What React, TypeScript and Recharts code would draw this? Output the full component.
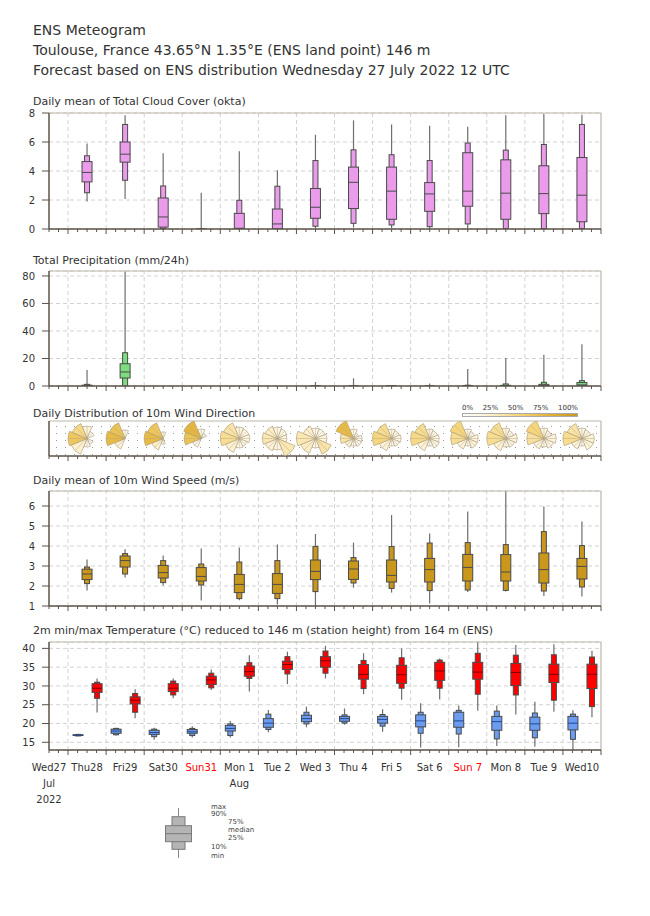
import React from 'react';
import { ComposedChart, Bar, Scatter, XAxis, YAxis, CartesianGrid, ReferenceLine } from 'recharts';

const FONT = '"DejaVu Sans", Verdana, sans-serif';
const INK = '#333333';
const AXIS = '#5b534a';
const FRAME = '#bdb5aa';
const GRID = '#d2d2d2';
const OUTLINE = '#4a4a4a';

// one label per calendar day, the plot starts Wed27 12 UTC
const dayLabels = ['Wed27', 'Thu28', 'Fri29', 'Sat30', 'Sun31', 'Mon 1', 'Tue 2', 'Wed 3', 'Thu 4', 'Fri 5', 'Sat 6', 'Sun 7', 'Mon 8', 'Tue 9', 'Wed10'];
const redDays = ['Sun31', 'Sun 7'];
const monthLabels: Record<number, string> = { 0: 'Jul', 5: 'Aug' };
const yearLabel = '2022';

// each box: min, 10%, 25%, median, 75%, 90%, max  (Thu28 ... Wed10)
const cloudCover = [
  [1.9, 2.5, 3.25, 3.9, 4.65, 5.05, 5.9],
  [2.07, 3.36, 4.61, 5.16, 6.0, 7.21, 7.84],
  [0, 0.03, 0.13, 0.83, 2.14, 2.97, 5.23],
  [0, 0, 0, 0, 0, 0.01, 2.5],
  [0, 0, 0.02, 0.05, 1.08, 1.98, 5.37],
  [0, 0, 0.02, 0.35, 1.38, 2.95, 4.06],
  [0.05, 0.19, 0.74, 1.5, 2.79, 4.72, 6.5],
  [0.1, 0.39, 1.41, 3.22, 4.27, 5.46, 7.49],
  [0.05, 0.28, 0.67, 2.61, 4.27, 5.12, 7.21],
  [0, 0.16, 1.22, 2.42, 3.2, 4.72, 7.12],
  [0.02, 0.35, 1.57, 2.61, 5.26, 5.93, 7.05],
  [0, 0.02, 0.67, 2.47, 4.77, 5.44, 7.84],
  [0, 0.02, 1.06, 2.44, 4.36, 5.83, 7.95],
  [0, 0.02, 0.5, 2.33, 4.93, 7.21, 7.88],
];

const precipitation = [
  [0, 0, 0.1, 0.3, 0.6, 1.2, 11.6],
  [0, 0, 5.8, 10.2, 16.2, 24.2, 83.5],
  [0, 0, 0, 0, 0, 0, 0],
  [0, 0, 0, 0, 0, 0, 0],
  [0, 0, 0, 0, 0, 0, 0],
  [0, 0, 0, 0, 0, 0, 0],
  [0, 0, 0, 0, 0, 0.2, 2.9],
  [0, 0, 0, 0, 0, 0, 5.6],
  [0, 0, 0, 0, 0, 0.1, 0.7],
  [0, 0, 0, 0, 0, 0, 1.9],
  [0, 0, 0, 0, 0.2, 0.6, 12.4],
  [0, 0, 0, 0.1, 0.5, 1.5, 20.4],
  [0, 0, 0, 0.3, 1.2, 2.7, 22.8],
  [0, 0, 0.2, 0.8, 2.5, 3.9, 30.3],
];

const windSpeed = [
  [1.78, 2.12, 2.32, 2.6, 2.84, 2.95, 3.33],
  [2.42, 2.6, 2.95, 3.27, 3.5, 3.62, 3.84],
  [2.03, 2.17, 2.4, 2.67, 3.03, 3.27, 3.52],
  [1.28, 2.05, 2.25, 2.48, 2.92, 3.1, 3.88],
  [1.29, 1.37, 1.67, 2.08, 2.58, 3.2, 3.93],
  [1.07, 1.37, 1.63, 2.08, 2.62, 3.27, 4.08],
  [1.0, 1.72, 2.32, 2.73, 3.3, 3.98, 4.6],
  [1.92, 2.15, 2.33, 2.85, 3.25, 3.42, 4.17],
  [1.67, 1.88, 2.2, 2.53, 3.3, 3.97, 5.55],
  [1.12, 1.77, 2.2, 2.82, 3.38, 4.15, 4.62],
  [1.7, 1.8, 2.25, 2.93, 3.58, 4.17, 5.73],
  [1.73, 1.78, 2.25, 2.7, 3.57, 4.07, 6.74],
  [1.5, 1.75, 2.15, 2.82, 3.65, 4.72, 5.98],
  [1.48, 1.95, 2.35, 2.98, 3.38, 4.02, 5.22],
];

// minimum temperature boxes (06 UTC) and maximum (18 UTC)
const tempMin = [
  [16.6, 16.7, 16.8, 16.9, 17.0, 17.1, 17.3],
  [16.8, 17.0, 17.4, 18.0, 18.5, 18.7, 18.9],
  [15.7, 16.5, 17.1, 17.6, 18.2, 18.5, 18.9],
  [16.3, 16.8, 17.4, 17.8, 18.4, 18.7, 19.3],
  [16.3, 16.8, 18.0, 18.7, 19.5, 19.9, 20.7],
  [17.7, 18.4, 19.0, 20.1, 21.3, 22.5, 23.6],
  [19.0, 19.9, 20.5, 21.3, 22.2, 23.0, 24.5],
  [19.7, 20.1, 20.6, 21.3, 21.9, 22.3, 24.0],
  [17.8, 19.3, 20.1, 21.1, 21.9, 22.4, 23.8],
  [13.6, 17.4, 19.1, 20.7, 22.3, 23.0, 25.4],
  [13.7, 17.2, 19.0, 20.7, 23.0, 23.5, 24.8],
  [14.0, 15.9, 18.2, 20.5, 21.9, 23.3, 24.8],
  [13.8, 16.2, 18.2, 19.9, 21.7, 22.8, 25.8],
  [12.95, 15.8, 18.3, 20.1, 21.9, 22.5, 23.5],
];

const tempMax = [
  [22.9, 26.7, 28.3, 29.4, 30.6, 31.0, 32.0],
  [21.4, 23.0, 25.2, 26.2, 27.1, 28.0, 29.1],
  [26.7, 27.6, 28.5, 29.4, 30.6, 31.3, 32.0],
  [28.9, 29.5, 30.4, 31.6, 32.6, 33.4, 34.4],
  [28.5, 32.0, 32.6, 33.8, 35.3, 36.2, 38.2],
  [30.5, 33.2, 34.4, 35.7, 36.6, 37.8, 39.1],
  [32.0, 33.4, 35.0, 36.7, 37.8, 39.3, 40.7],
  [27.8, 29.3, 31.8, 33.1, 35.7, 36.8, 38.7],
  [26.3, 29.4, 30.7, 33.0, 35.5, 37.5, 40.0],
  [26.4, 29.4, 31.5, 34.0, 36.3, 36.9, 37.3],
  [23.4, 27.8, 31.8, 33.7, 36.3, 38.7, 41.7],
  [22.4, 27.6, 30.1, 33.6, 36.0, 38.2, 40.9],
  [23.1, 26.2, 30.9, 33.1, 35.8, 38.3, 41.1],
  [21.7, 24.5, 29.3, 33.1, 35.8, 37.7, 39.4],
];

// wind direction sectors: N, NE, E, SE, S, SW, W, NW
const windDirFreq = [
  [10, 4, 0, 2, 4, 14, 38, 28],
  [4, 0, 0, 0, 0, 12, 44, 40],
  [2, 0, 0, 0, 2, 14, 44, 38],
  [6, 2, 0, 0, 0, 6, 40, 46],
  [10, 8, 8, 6, 6, 14, 26, 22],
  [8, 8, 8, 20, 8, 12, 20, 16],
  [6, 6, 10, 22, 6, 16, 20, 14],
  [6, 2, 6, 6, 4, 10, 22, 44],
  [8, 6, 8, 6, 4, 12, 30, 26],
  [8, 6, 8, 8, 4, 12, 28, 26],
  [6, 4, 10, 10, 4, 10, 26, 30],
  [8, 6, 10, 8, 4, 12, 26, 26],
  [8, 6, 10, 8, 4, 10, 24, 30],
  [8, 8, 12, 10, 4, 10, 26, 22],
];
const windDirLen = [
  [0.65, 0.4, 0, 0.35, 0.45, 0.9, 1.0, 0.85],
  [0.45, 0, 0, 0, 0, 0.6, 1.0, 0.9],
  [0.35, 0, 0, 0, 0.3, 0.65, 1.0, 0.9],
  [0.5, 0.3, 0, 0, 0, 0.5, 0.9, 1.0],
  [0.6, 0.55, 0.55, 0.45, 0.5, 0.8, 1.0, 0.9],
  [0.6, 0.55, 0.5, 1.0, 0.6, 0.7, 0.8, 0.7],
  [0.55, 0.55, 0.6, 0.9, 0.5, 0.85, 1.0, 0.7],
  [0.5, 0.3, 0.45, 0.45, 0.4, 0.5, 0.7, 1.0],
  [0.5, 0.45, 0.5, 0.45, 0.4, 0.7, 1.0, 0.85],
  [0.5, 0.45, 0.5, 0.55, 0.4, 0.7, 1.0, 0.85],
  [0.5, 0.4, 0.55, 0.55, 0.4, 0.6, 0.9, 1.0],
  [0.55, 0.45, 0.6, 0.5, 0.45, 0.7, 1.0, 0.9],
  [0.55, 0.45, 0.65, 0.55, 0.45, 0.6, 0.9, 1.0],
  [0.55, 0.5, 0.65, 0.65, 0.4, 0.6, 1.0, 0.85],
];

const cloudTicks = [0, 2, 4, 6, 8];
const precipTicks = [0, 20, 40, 60, 80];
const windTicks = [1, 2, 3, 4, 5, 6];
const tempTicks = [15, 20, 25, 30, 35, 40];
const legendPercents = ['0%', '25%', '50%', '75%', '100%'];

// 6-hourly ticks across the whole period
const xTicks: number[] = [];
for (let t = 0.5; t <= dayLabels.length + 0.001; t += 0.25) xTicks.push(t);
const dayLines = dayLabels.slice(1).map((_, i) => i + 1);

const toRows = (boxes: number[][], offset: number, fill: string, median = OUTLINE) =>
  boxes.map((q, i) => ({ x: i + 1 + offset, range: [q[0], q[6]], q, fill, median }));

const cloudRows = toRows(cloudCover, 0.5, '#ea9cea');
const precipRows = toRows(precipitation, 0.5, '#7ddc7d');
const windRows = toRows(windSpeed, 0.5, '#c8971c');
const tempRows = [
  ...toRows(tempMin, 0.25, '#6a9cf2', '#23468f'),
  ...toRows(tempMax, 0.75, '#ff0000', '#7a0000'),
].sort((a, b) => a.x - b.x);
const roseRows = windDirFreq.map((freq, i) => ({ x: i + 1.5, y: 0.5, freq, len: windDirLen[i] }));

const BoxShape = (props: any) => {
  const { x, y, width, height, payload } = props;
  const [min, p10, p25, med, p75, p90, max] = payload.q;
  if (!(max > min)) return <g />;
  const top = Math.min(y, y + height);
  const bot = Math.max(y, y + height);
  const py = (v: number) => bot - ((bot - top) * (v - min)) / (max - min);
  const cx = x + width / 2;
  return (
    <g>
      <line x1={cx} x2={cx} y1={py(max)} y2={py(min)} stroke="#6e6e6e" strokeWidth={1.2} />
      <rect x={cx - 2.5} y={py(p90)} width={5} height={Math.max(0.5, py(p10) - py(p90))} fill={payload.fill} stroke={OUTLINE} strokeWidth={1} />
      <rect x={cx - 5} y={py(p75)} width={10} height={Math.max(0.5, py(p25) - py(p75))} fill={payload.fill} stroke={OUTLINE} strokeWidth={1} />
      <line x1={cx - 5} x2={cx + 5} y1={py(med)} y2={py(med)} stroke={payload.median} strokeWidth={1} />
    </g>
  );
};

const colorStops = [
  [0, [255, 255, 255]],
  [0.25, [252, 238, 200]],
  [0.5, [245, 212, 118]],
  [0.75, [228, 180, 58]],
  [1, [200, 150, 30]],
] as [number, number[]][];

const sectorColor = (pct: number) => {
  const f = Math.min(1, Math.max(0, pct / 100));
  for (let i = 1; i < colorStops.length; i++) {
    const [f1, c1] = colorStops[i];
    const [f0, c0] = colorStops[i - 1];
    if (f <= f1) {
      const t = (f - f0) / (f1 - f0);
      const c = c0.map((v, k) => Math.round(v + (c1[k] - v) * t));
      return `rgb(${c[0]},${c[1]},${c[2]})`;
    }
  }
  return 'rgb(200,150,30)';
};

const WindRose = (props: any) => {
  const { cx, cy, payload } = props;
  const R = 19;
  return (
    <g>
      {payload.freq.map((f: number, i: number) => {
        if (f <= 0 || payload.len[i] <= 0) return null;
        const r = R * payload.len[i];
        const a0 = ((i * 45 - 22.5) * Math.PI) / 180;
        const a1 = ((i * 45 + 22.5) * Math.PI) / 180;
        const mid = (i * 45 * Math.PI) / 180;
        const x0 = cx + r * Math.sin(a0);
        const y0 = cy - r * Math.cos(a0);
        const x1 = cx + r * Math.sin(a1);
        const y1 = cy - r * Math.cos(a1);
        return (
          <g key={i}>
            <path d={`M${cx},${cy} L${x0},${y0} A${r},${r} 0 0 1 ${x1},${y1} Z`} fill={sectorColor(f * 1.6)} stroke="#a89878" strokeWidth={0.6} />
            <line x1={cx} y1={cy} x2={cx + r * Math.sin(mid)} y2={cy - r * Math.cos(mid)} stroke="#b8a888" strokeWidth={0.5} />
          </g>
        );
      })}
    </g>
  );
};

const DayTick = (props: any) => {
  const { x, y, payload, labels } = props;
  const v = payload.value;
  const day = Math.floor(v + 1e-6);
  const hour = Math.round((v - day) * 24);
  const len = hour === 0 ? 5 : 3;
  const label = dayLabels[day];
  return (
    <g>
      <line x1={x} x2={x} y1={y} y2={y + len} stroke={AXIS} strokeWidth={1} />
      {labels && hour === 12 && label && (
        <text x={x} y={y + 21} textAnchor="middle" fontSize={10} fontFamily={FONT} fill={redDays.includes(label) ? '#ff0000' : INK}>
          {label}
        </text>
      )}
      {labels && hour === 12 && monthLabels[day] && (
        <text x={x} y={y + 37} textAnchor="middle" fontSize={10} fontFamily={FONT} fill={INK}>
          {monthLabels[day]}
        </text>
      )}
      {labels && hour === 12 && day === 0 && (
        <text x={x} y={y + 53} textAnchor="middle" fontSize={10} fontFamily={FONT} fill={INK}>
          {yearLabel}
        </text>
      )}
    </g>
  );
};

const Panel = ({ top, plotHeight, domain, yTicks, data, labels = false, axisHeight = 10, children }: any) => (
  <div style={{ position: 'absolute', left: 0, top: top - 10 }}>
    <ComposedChart width={650} height={10 + plotHeight + axisHeight} data={data} margin={{ top: 10, right: 49, bottom: 0, left: 19 }}>
      {yTicks && <CartesianGrid vertical={false} stroke={GRID} strokeDasharray="4 3" />}
      {yTicks && dayLines.map((d) => <ReferenceLine key={d} x={d} stroke={GRID} strokeDasharray="4 3" />)}
      <ReferenceLine y={domain[1]} stroke={FRAME} strokeWidth={1.2} />
      <ReferenceLine x={dayLabels.length} stroke={FRAME} strokeWidth={1.2} />
      <XAxis
        type="number"
        dataKey="x"
        domain={[0.5, dayLabels.length]}
        ticks={xTicks}
        interval={0}
        allowDataOverflow
        tickLine={false}
        tickSize={0}
        tickMargin={0}
        height={axisHeight}
        axisLine={{ stroke: AXIS, strokeWidth: 1.5 }}
        tick={(p: any) => <DayTick {...p} labels={labels} />}
      />
      <YAxis
        type="number"
        domain={domain}
        ticks={yTicks}
        interval={0}
        allowDataOverflow
        width={30}
        tick={yTicks ? { fontSize: 10, fill: INK, fontFamily: FONT } : false}
        tickLine={yTicks ? { stroke: AXIS } : false}
        tickSize={7}
        tickMargin={7}
        axisLine={{ stroke: AXIS, strokeWidth: 1.5 }}
      />
      {children}
    </ComposedChart>
  </div>
);

const Title = ({ top, size, children }: any) => (
  <div style={{ position: 'absolute', left: 33, top, fontSize: size, lineHeight: 1, color: INK, whiteSpace: 'nowrap' }}>{children}</div>
);

export default function App() {
  return (
    <div style={{ position: 'absolute', left: 0, top: 0, width: 650, height: 916, background: '#fff', fontFamily: FONT }}>
      <Title top={23} size={14}>ENS Meteogram</Title>
      <Title top={43} size={14}>Toulouse, France 43.65°N 1.35°E (ENS land point) 146 m</Title>
      <Title top={63} size={14}>Forecast based on ENS distribution Wednesday 27 July 2022 12 UTC</Title>

      <Title top={96} size={11}>Daily mean of Total Cloud Cover (okta)</Title>
      <Panel top={113} plotHeight={116} domain={[0, 8]} yTicks={cloudTicks} data={cloudRows}>
        <Bar dataKey="range" barSize={10} shape={BoxShape} isAnimationActive={false} />
      </Panel>

      <Title top={254.5} size={11}>Total Precipitation (mm/24h)</Title>
      <Panel top={271} plotHeight={115} domain={[0, 83.6]} yTicks={precipTicks} data={precipRows}>
        <Bar dataKey="range" barSize={10} shape={BoxShape} isAnimationActive={false} />
      </Panel>

      <Title top={407.5} size={11}>Daily Distribution of 10m Wind Direction</Title>
      <div
        style={{
          position: 'absolute', left: 49, top: 421, width: 552, height: 35,
          backgroundImage: 'radial-gradient(circle, #9a9a9a 0.7px, transparent 0.9px)',
          backgroundSize: '9px 7px', backgroundPosition: '3px 2px',
        }}
      />
      <div style={{ position: 'absolute', left: 0, top: 0 }}>
        <div style={{ position: 'absolute', left: 462, top: 404, width: 116, display: 'flex', justifyContent: 'space-between', fontSize: 7, color: INK }}>
          {legendPercents.map((p) => <span key={p}>{p}</span>)}
        </div>
        <div
          style={{
            position: 'absolute', left: 462, top: 413, width: 116, height: 4, boxSizing: 'border-box', border: '0.5px solid #aaa',
            background: 'linear-gradient(to right, #ffffff, #fceec8 25%, #f5d476 50%, #e4b43a 75%, #c8961e)',
          }}
        />
      </div>
      <Panel top={421} plotHeight={35} domain={[0, 1]} yTicks={null} data={roseRows}>
        <Scatter data={roseRows} dataKey="y" shape={(p: any) => <WindRose {...p} />} isAnimationActive={false} />
      </Panel>

      <Title top={474.5} size={11}>Daily mean of 10m Wind Speed (m/s)</Title>
      <Panel top={491} plotHeight={115} domain={[1, 6.75]} yTicks={windTicks} data={windRows}>
        <Bar dataKey="range" barSize={10} shape={BoxShape} isAnimationActive={false} />
      </Panel>

      <Title top={624.5} size={11}>2m min/max Temperature (°C) reduced to 146 m (station height) from 164 m (ENS)</Title>
      <Panel top={642} plotHeight={108} domain={[12.95, 41.7]} yTicks={tempTicks} data={tempRows} labels axisHeight={60}>
        <Bar dataKey="range" barSize={10} shape={BoxShape} isAnimationActive={false} />
      </Panel>

      <svg style={{ position: 'absolute', left: 150, top: 800 }} width={120} height={65}>
        <line x1={28.5} x2={28.5} y1={8} y2={58} stroke="#888" strokeWidth={1} />
        <rect x={22} y={16.7} width={13} height={32.6} fill="#b4b4b4" stroke="#7a7a7a" />
        <rect x={15.5} y={25.7} width={26} height={16} fill="#b4b4b4" stroke="#7a7a7a" />
        <line x1={15.5} x2={41.5} y1={33.7} y2={33.7} stroke="#7a7a7a" />
        <g fontSize={7} fill="#444" fontFamily={FONT}>
          <text x={61} y={8.5}>max</text>
          <text x={61} y={15.5}>90%</text>
          <text x={78} y={24}>75%</text>
          <text x={78} y={31.5}>median</text>
          <text x={78} y={39.5}>25%</text>
          <text x={61} y={49}>10%</text>
          <text x={61} y={58}>min</text>
        </g>
      </svg>
    </div>
  );
}
